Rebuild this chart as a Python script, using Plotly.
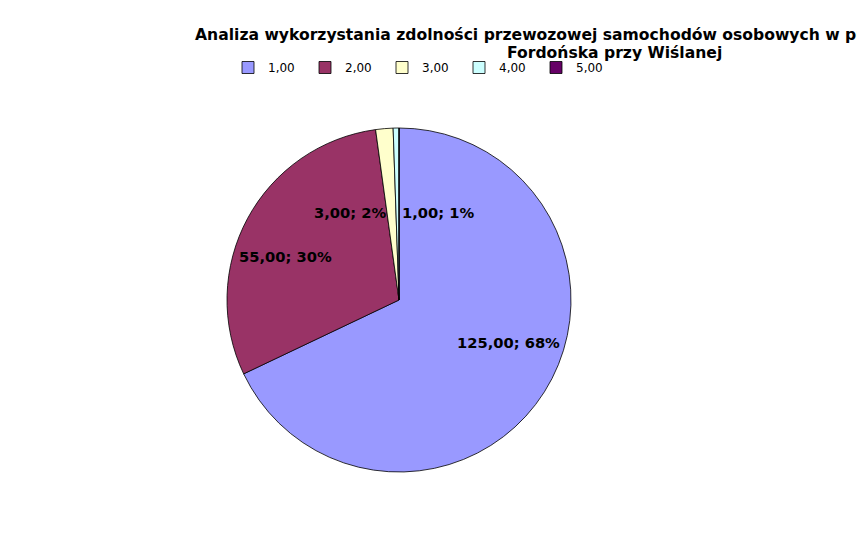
import plotly.graph_objects as go

# ---- data ----
categories = ["1,00", "2,00", "3,00", "4,00", "5,00"]
values = [125, 55, 3, 1, 0]
colors = ["#9999FF", "#993366", "#FFFFCC", "#CCFFFF", "#660066"]
title_line1 = "Analiza wykorzystania zdolności przewozowej samochodów osobowych w punkcie"
title_line2 = "Fordońska przy Wiślanej"

W, H = 865, 545
FONT = "DejaVu Sans"
OFF = 8  # page body margin

total = sum(values)

def fmt(v):
    return f"{v:.2f}".replace(".", ",")

label_texts = [f"{fmt(v)}; {round(100 * v / total)}%" for v in values]
# label anchor positions (screen px) for slices 0..3
label_px = [(508, 342), (285, 257), (350, 213), (438, 213)]

def px(x, y):
    return (x - OFF) / W, 1 - (y - OFF) / H

cx, cy, r = 399 - OFF, 300 - OFF, 172
fig = go.Figure(go.Pie(
    labels=categories,
    values=values,
    sort=False,
    direction="clockwise",
    rotation=0,
    marker=dict(colors=colors, line=dict(color="#000000", width=0.8)),
    textinfo="none",
    hoverinfo="label+value+percent",
    domain=dict(x=[(cx - r) / W, (cx + r) / W], y=[1 - (cy + r) / H, 1 - (cy - r) / H]),
    showlegend=True,
))

annotations = []
for (x, y), t in zip(label_px, label_texts):
    ax, ay = px(x, y)
    annotations.append(dict(x=ax, y=ay, xref="paper", yref="paper", text=t, showarrow=False,
                            xanchor="center", yanchor="middle",
                            font=dict(family=FONT, size=14.7, color="#000000", weight="bold")))
tx, ty = px(193, 35)
annotations.append(dict(x=tx, y=ty, xref="paper", yref="paper", text=title_line1,
                        showarrow=False, xanchor="left", yanchor="middle",
                        font=dict(family=FONT, size=15.6, color="#000000", weight="bold")))
tx, ty = px(614, 53)
annotations.append(dict(x=tx, y=ty, xref="paper", yref="paper", text=title_line2,
                        showarrow=False, xanchor="center", yanchor="middle",
                        font=dict(family=FONT, size=15.6, color="#000000", weight="bold")))

lx, ly = px(228, 53)
fig.update_layout(
    width=W, height=H,
    margin=dict(l=0, r=0, t=0, b=0),
    paper_bgcolor="#FFFFFF",
    plot_bgcolor="#FFFFFF",
    font=dict(family=FONT, size=12, color="#000000"),
    annotations=annotations,
    legend=dict(orientation="h", x=lx, y=ly, xanchor="left", yanchor="top",
                entrywidth=32, entrywidthmode="pixels", itemwidth=30,
                font=dict(family=FONT, size=12, color="#000000"),
                bgcolor="rgba(0,0,0,0)", tracegroupgap=0),
)

fig.write_html("out.html")
